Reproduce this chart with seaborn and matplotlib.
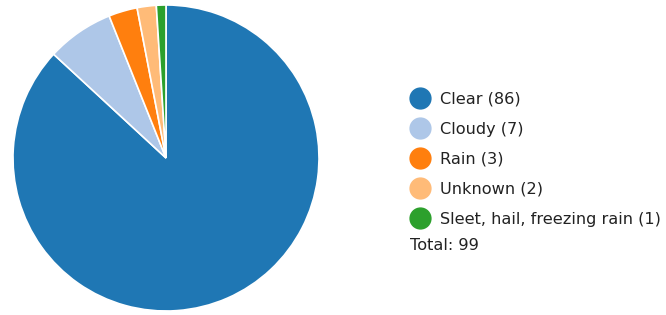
import matplotlib
matplotlib.use("Agg")
import matplotlib.pyplot as plt
import seaborn as sns
from matplotlib.lines import Line2D

# weather categories and counts
categories = ["Clear", "Cloudy", "Rain", "Unknown", "Sleet, hail, freezing rain"]
counts = [86, 7, 3, 2, 1]

sns.set_style("white")
plt.rcParams["font.family"] = ["DejaVu Sans"]
colors = sns.color_palette("tab20", 5)

W, H = 666, 315
fig = plt.figure(figsize=(W / 100, H / 100), dpi=100)

# pie area in pixel terms
ax = fig.add_axes([13 / W, (H - 311) / H, 306 / W, 306 / H])
ax.pie(counts, colors=colors, startangle=90, counterclock=False,
       radius=1, wedgeprops=dict(edgecolor="white", linewidth=1.2))
ax.set_xlim(-1.0, 1.0)
ax.set_ylim(-1.0, 1.0)
ax.set_aspect("equal")
ax.axis("off")

fs = 11.6
labels = ["%s (%d)" % (c, n) for c, n in zip(categories, counts)]
handles = [Line2D([], [], marker="o", linestyle="", markersize=15,
                  markerfacecolor=col, markeredgecolor=col) for col in colors]
leg = fig.legend(handles, labels, loc="upper left",
                 bbox_to_anchor=(412 / W, (H - 92) / H),
                 frameon=False, fontsize=fs, handlelength=1.0,
                 handletextpad=0.74, labelspacing=0.93, borderaxespad=0,
                 borderpad=0)
for t in leg.get_texts():
    t.set_color("#222222")

fig.text(410 / W, (H - 245) / H, "Total: %d" % sum(counts), fontsize=fs,
         color="#222222", va="center", ha="left")

fig.savefig("out.png", dpi=100)
